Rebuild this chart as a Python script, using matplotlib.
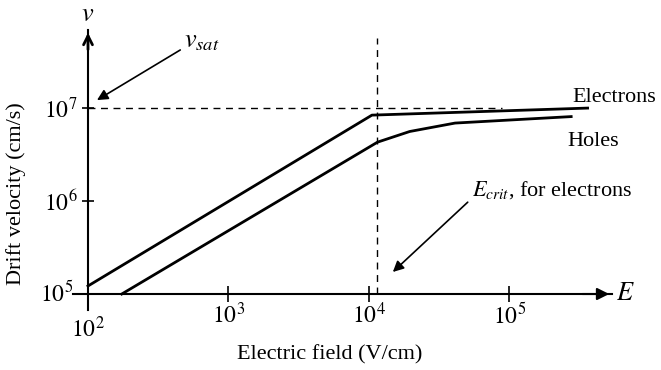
import numpy as np
import matplotlib.pyplot as plt

plt.rcParams['font.family'] = ['Liberation Serif', 'DejaVu Serif']
plt.rcParams['mathtext.fontset'] = 'stix'

# drift velocity vs electric field (log-log)
E_electrons = [1.0e2, 1.05e4, 3.6e5]
v_electrons = [1.22e5, 8.4e6, 1.0e7]

E_holes = [1.74e2, 1.15e4, 1.95e4, 4.1e4, 2.75e5]
v_holes = [1.0e5, 4.3e6, 5.6e6, 6.9e6, 8.1e6]

v_sat = 1.0e7
E_crit = 1.15e4

x_ticks = [1e3, 1e4, 1e5]
x_ticklabels = ['$10^3$', '$10^4$', '$10^5$']
y_ticks = [1e6, 1e7]
y_ticklabels = ['$10^6$', '$10^7$']

fs = 16
fs_num = 17

fig = plt.figure(figsize=(6.61, 3.70), dpi=100)
ax = fig.add_axes([73/661, 1 - 310/370, (612 - 73)/661, (310 - 30)/370])
ax.set_xscale('log')
ax.set_yscale('log')
xmin, xmax = 10**(2 - 15/140.5), 10**5.73
ymin, ymax = 10**(5 - 16/93), 10**7.84
ax.set_xlim(xmin, xmax)
ax.set_ylim(ymin, ymax)

for s in ['top', 'right']:
    ax.spines[s].set_visible(False)
ax.spines['bottom'].set_position(('data', 1e5))
ax.spines['left'].set_position(('data', 1e2))
ax.spines['bottom'].set_linewidth(1.5)
ax.spines['left'].set_linewidth(1.5)
ax.patch.set_visible(False)

ax.minorticks_off()
ax.set_xticks(x_ticks)
ax.set_xticklabels(x_ticklabels, fontsize=fs_num)
ax.set_yticks(y_ticks)
ax.set_yticklabels(y_ticklabels, fontsize=fs_num)
ax.tick_params(axis='x', direction='inout', length=11, width=1.2, pad=1)
ax.tick_params(axis='y', direction='inout', length=9, width=1.2, pad=3)

# arrow heads on the axes
ax.annotate('', xy=(xmax, 1e5), xytext=(10**5.5, 1e5),
            arrowprops=dict(arrowstyle='-|>', color='black', lw=1.5, mutation_scale=18))
ax.annotate('', xy=(1e2, ymax), xytext=(1e2, 10**7.6),
            arrowprops=dict(arrowstyle='->', color='black', lw=2, mutation_scale=16))

# origin labels
ax.text(1e2, 10**(5 - 35/93), '$10^2$', fontsize=fs_num, ha='center', va='center')
ax.text(10**(2 - 15/140.5), 1e5, '$10^5$', fontsize=fs_num, ha='right', va='center')
ax.text(10**(2 + 528/140.5), 1e5, '$E$', fontsize=fs + 3, ha='left', va='center')
ax.text(1e2, 10**(5 + 279/93), '$v$', fontsize=fs + 3, ha='center', va='center')

# curves
ax.plot(E_electrons, v_electrons, color='black', lw=2)
ax.plot(E_holes, v_holes, color='black', lw=2)

# dashed guides
ax.plot([1e2, 10**4.95], [v_sat, v_sat], color='black', lw=1, ls=(0, (5, 4)))
ax.plot([E_crit, E_crit], [1e5, 10**7.75], color='black', lw=1, ls=(0, (5, 4)))

# labels on the curves
ax.text(10**(2 + 484/140.5), 10**(5 + 197/93), 'Electrons', fontsize=fs, ha='left', va='center')
ax.text(10**(2 + 479/140.5), 10**(5 + 153/93), 'Holes', fontsize=fs, ha='left', va='center')

# annotations
ax.annotate(r'$v_{sat}$', xy=(10**2.064, 10**7.086), xytext=(10**2.685, 10**7.71),
            fontsize=fs + 3, ha='left', va='center',
            arrowprops=dict(arrowstyle='-|>', color='black', lw=1.2, mutation_scale=16,
                            shrinkA=1, shrinkB=0, relpos=(0.0, 0.25)))
ax.annotate(r'$E_{crit}$, for electrons', xy=(10**4.17, 10**5.237), xytext=(10**4.73, 10**6.12),
            fontsize=fs, ha='left', va='center',
            arrowprops=dict(arrowstyle='-|>', color='black', lw=1.2, mutation_scale=16,
                            shrinkA=1, shrinkB=0, relpos=(0.0, 0.1)))

fig.text(330/661, 1 - 355/370, 'Electric field (V/cm)', fontsize=fs, ha='center', va='center')
fig.text(16/661, 1 - 194/370, 'Drift velocity (cm/s)', fontsize=fs, ha='center', va='center',
         rotation=90)

fig.savefig('out.png', dpi=100)
